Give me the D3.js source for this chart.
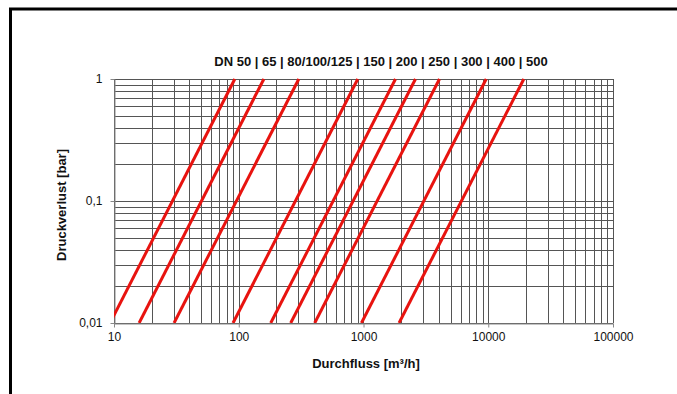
<!DOCTYPE html>
<html>
<head>
<meta charset="utf-8">
<script src="https://cdn.jsdelivr.net/npm/d3@7"></script>
<style>
  body { margin: 0; background: #fff; }
  text { font-family: "Liberation Sans", Arial, sans-serif; }
</style>
</head>
<body>
<div id="chart"></div>
<script>
// nominal sizes, one red line each
const dnSizes = ["50", "65", "80/100/125", "150", "200", "250", "300", "400", "500"];
// flow [m3/h] where each line meets 1 bar and 0,01 bar
const flowAt1bar = [93, 159, 303, 900, 1805, 2610, 4065, 9630, 19280];
const flowAt001bar = [9.3, 15.9, 30.3, 90, 180.5, 261, 406.5, 963, 1928];

const xTickValues = [10, 100, 1000, 10000, 100000];
const xTickLabels = ["10", "100", "1000", "10000", "100000"];
const yTickValues = [0.01, 0.1, 1];
const yTickLabels = ["0,01", "0,1", "1"];

const width = 677, height = 394;
const plot = { left: 114, right: 613, top: 79, bottom: 323 };

const svg = d3.select("#chart")
  .append("svg")
  .attr("width", width)
  .attr("height", height);

svg.append("rect").attr("width", width).attr("height", height).attr("fill", "#fff");

// frame (only top + left visible in the crop)
svg.append("path")
  .attr("d", `M10.5,${height} L10.5,9 L${width},9`)
  .attr("fill", "none")
  .attr("stroke", "#000")
  .attr("stroke-width", 3);

const x = d3.scaleLog().domain([10, 100000]).range([plot.left, plot.right]);
const y = d3.scaleLog().domain([0.01, 1]).range([plot.bottom, plot.top]);

// grid
const grid = svg.append("g").attr("stroke", "#555").attr("stroke-width", 1);
grid.selectAll(".vx")
  .data(x.ticks())
  .join("line")
  .attr("x1", d => Math.round(x(d)) + 0.5)
  .attr("x2", d => Math.round(x(d)) + 0.5)
  .attr("y1", plot.top)
  .attr("y2", plot.bottom);
grid.selectAll(".hy")
  .data(y.ticks())
  .join("line")
  .attr("y1", d => Math.round(y(d)) + 0.5)
  .attr("y2", d => Math.round(y(d)) + 0.5)
  .attr("x1", plot.left)
  .attr("x2", plot.right);

// axes
const xAxis = svg.append("g")
  .attr("transform", `translate(0,${plot.bottom + 0.5})`)
  .call(d3.axisBottom(x).tickValues(xTickValues)
    .tickFormat((d, i) => xTickLabels[i]).tickSize(4).tickSizeOuter(0));
const yAxis = svg.append("g")
  .attr("transform", `translate(${plot.left + 0.5},0)`)
  .call(d3.axisLeft(y).tickValues(yTickValues)
    .tickFormat((d, i) => yTickLabels[i]).tickSize(4).tickSizeOuter(0));

[xAxis, yAxis].forEach(a => {
  a.select(".domain").attr("stroke", "#888");
  a.selectAll(".tick line").attr("stroke", "#888");
  a.selectAll(".tick text")
    .attr("fill", "#111")
    .style("font-size", "12px")
    .style("font-family", "'Liberation Sans', Arial, sans-serif");
});
xAxis.selectAll(".tick text").attr("dy", "0.71em").attr("y", 9);
yAxis.selectAll(".tick text").attr("x", -12);

// red lines
svg.append("clipPath").attr("id", "plotclip")
  .append("rect")
  .attr("x", plot.left).attr("y", plot.top - 2)
  .attr("width", plot.right - plot.left).attr("height", plot.bottom - plot.top + 2);

const lines = dnSizes.map((dn, i) => [
  { q: flowAt001bar[i], p: 0.01 },
  { q: flowAt1bar[i], p: 1 }
]);

svg.append("g")
  .attr("clip-path", "url(#plotclip)")
  .selectAll("path")
  .data(lines)
  .join("path")
  .attr("fill", "none")
  .attr("stroke", "#e8130f")
  .attr("stroke-width", 3)
  .attr("d", d3.line().x(d => x(d.q)).y(d => y(d.p)));

// texts
svg.append("text")
  .attr("x", 381).attr("y", 66)
  .attr("text-anchor", "middle")
  .style("font-size", "13px").style("font-weight", "bold")
  .attr("fill", "#111")
  .text("DN " + dnSizes.join(" | "));

svg.append("text")
  .attr("x", 366).attr("y", 368)
  .attr("text-anchor", "middle")
  .style("font-size", "13px").style("font-weight", "bold")
  .attr("fill", "#111")
  .text("Durchfluss [m³/h]");

svg.append("text")
  .attr("transform", "translate(66,205) rotate(-90)")
  .attr("text-anchor", "middle")
  .style("font-size", "13px").style("font-weight", "bold")
  .attr("fill", "#111")
  .text("Druckverlust [bar]");
</script>
</body>
</html>
